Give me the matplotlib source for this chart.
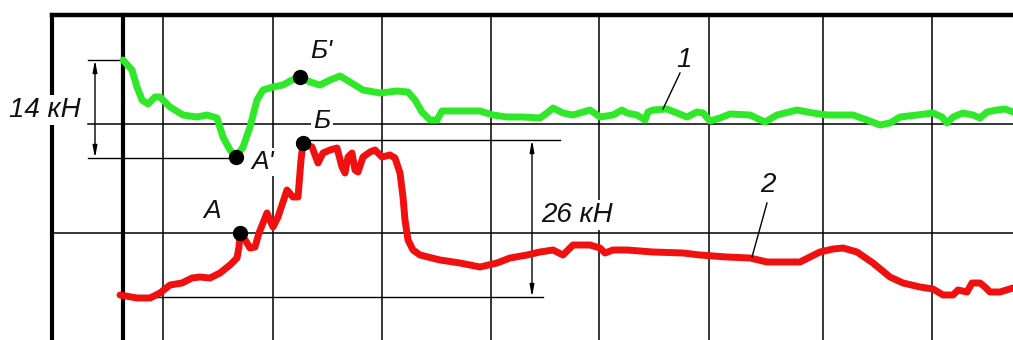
import matplotlib.pyplot as plt

# curve 1 (green) and curve 2 (red) (x to the right, y downwards)
green_x = [123, 132, 137, 142, 148, 155, 160, 170, 183, 197, 207, 217, 223, 230, 236, 243, 250, 257, 263, 273,
           283, 292, 300, 310, 320, 330, 340, 350, 363, 380, 397, 408, 415, 422, 430, 437, 442, 447, 467, 480,
           493, 507, 523, 540, 547, 553, 563, 573, 590, 600, 613, 622, 627, 637, 645, 648, 653, 667, 677, 687,
           697, 703, 710, 720, 730, 750, 765, 777, 797, 813, 827, 853, 867, 880, 890, 900, 917, 933, 942, 947,
           953, 963, 973, 980, 987, 997, 1005, 1013]
green_y = [60, 70, 87, 100, 104, 97, 97, 107, 115, 117, 115, 118, 137, 150, 157, 147, 127, 100, 90, 87,
           85, 80, 77, 82, 85, 80, 76, 82, 90, 93, 91, 92, 100, 112, 120, 120, 111, 111, 111, 111,
           115, 117, 117, 118, 113, 108, 113, 115, 110, 117, 115, 110, 113, 115, 120, 112, 110, 109, 113, 117,
           112, 113, 121, 118, 114, 115, 122, 115, 110, 113, 115, 115, 120, 125, 123, 117, 115, 113, 117, 123,
           117, 113, 115, 118, 112, 110, 109, 112]

red_x = [120, 137, 150, 160, 170, 182, 192, 200, 210, 220, 230, 237, 239, 240, 244, 250, 255, 259, 267, 273,
         278, 287, 293, 298, 301, 303, 312, 318, 323, 330, 337, 342, 345, 348, 352, 355, 358, 363, 370, 375,
         382, 390, 395, 400, 403, 405, 408, 413, 420, 440, 460, 480, 497, 510, 527, 540, 553, 563, 570, 573,
         590, 600, 605, 613, 627, 653, 683, 700, 727, 750, 767, 800, 810, 820, 833, 843, 857, 873, 890, 903,
         920, 933, 943, 953, 958, 967, 972, 980, 985, 990, 1000, 1013]
red_y = [295, 298, 298, 293, 285, 283, 278, 277, 278, 273, 265, 258, 247, 233, 238, 248, 247, 233, 213, 227,
         217, 190, 197, 197, 160, 143, 147, 163, 153, 150, 148, 167, 173, 157, 153, 170, 172, 157, 152, 150,
         157, 155, 158, 173, 197, 220, 240, 250, 255, 260, 263, 267, 263, 258, 255, 252, 250, 255, 248, 245,
         245, 248, 253, 250, 250, 252, 253, 255, 257, 258, 262, 262, 257, 252, 249, 248, 252, 263, 277, 283,
         287, 289, 295, 295, 290, 292, 283, 283, 287, 292, 292, 288]

# marked points A', Б', A, Б
pt_names = ["A'", "Б'", "A", "Б"]
pt_x = [236, 300, 240, 303]
pt_y = [157, 77, 233, 143]

# grid of the chart paper
grid_x = [163, 273, 382, 491, 599, 709, 823, 932]
thick_x = [52, 123]
top_y = 15

W, H = 1013, 340
fig = plt.figure(figsize=(W / 100, H / 100), dpi=100)
ax = fig.add_axes([0, 0, 1, 1])
ax.set_xlim(0, W)
ax.set_ylim(H, 0)
ax.axis("off")

k = "black"
for x in grid_x:
    ax.plot([x, x], [top_y, H], color=k, lw=1.1, zorder=1)
for x in thick_x:
    ax.plot([x, x], [top_y, H], color=k, lw=3.0, zorder=1, solid_capstyle="projecting")
ax.plot([52, W], [top_y, top_y], color=k, lw=3.2, zorder=1)
ax.plot([88, W], [124, 124], color=k, lw=1.1, zorder=1)
ax.plot([52, W], [233, 233], color=k, lw=1.1, zorder=1)

# dimension lines
ax.plot([88, 123], [60, 60], color=k, lw=1.0, zorder=1)
ax.plot([88, 236], [158, 158], color=k, lw=1.0, zorder=1)
ax.plot([303, 560], [140, 140], color=k, lw=1.0, zorder=1)
ax.plot([122, 543], [297, 297], color=k, lw=1.0, zorder=1)
arr = dict(arrowstyle="<|-|>,head_length=0.7,head_width=0.13", color=k, lw=1.0, shrinkA=0, shrinkB=0)
ax.annotate("", xy=(95, 60), xytext=(95, 158), arrowprops=arr, zorder=2)
ax.annotate("", xy=(532, 140), xytext=(532, 297), arrowprops=arr, zorder=2)

ax.plot(green_x, green_y, color="#2fe82a", lw=5.0, solid_joinstyle="round", solid_capstyle="round", zorder=3)
ax.plot(red_x, red_y, color="#f01010", lw=5.0, solid_joinstyle="round", solid_capstyle="round", zorder=3)
ax.plot(pt_x, pt_y, "o", color=k, ms=10, zorder=4)

font = dict(family="Liberation Sans", style="italic", color="#111111")
wbox = dict(facecolor="white", edgecolor="none", pad=1.5)
ax.text(45, 110, "14 кН", fontsize=20, ha="center", va="center", bbox=wbox, zorder=5, **font)
ax.text(577, 215, "26 кН", fontsize=20, ha="center", va="center", bbox=wbox, zorder=5, **font)
lab_x = [263, 321, 212, 322]
lab_y = [162, 51, 211, 121]
for n, x, y in zip(pt_names, lab_x, lab_y):
    ax.text(x, y, n, fontsize=19, ha="center", va="center", bbox=wbox, zorder=5, **font)

ax.text(684, 60, "1", fontsize=20, ha="center", va="center", zorder=5, **font)
ax.plot([680, 663], [73, 109], color=k, lw=1.0, zorder=4)
ax.text(768, 185, "2", fontsize=20, ha="center", va="center", zorder=5, **font)
ax.plot([767, 752], [203, 257], color=k, lw=1.0, zorder=4)

plt.savefig("out.png", dpi=100)
